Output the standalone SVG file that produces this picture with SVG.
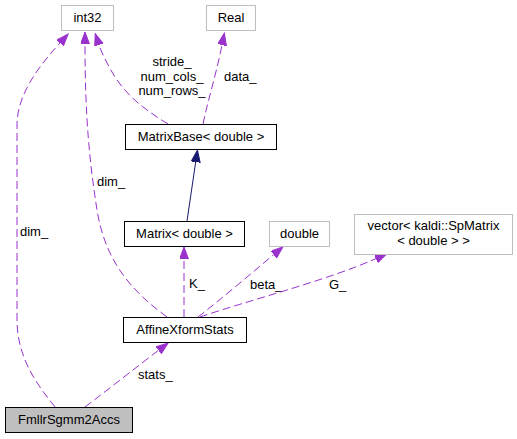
<svg xmlns="http://www.w3.org/2000/svg" width="517" height="439" viewBox="0 0 517 439">
<style>
text{font-family:"Liberation Sans",Arial,sans-serif;font-size:13px;fill:#000}
.c{text-anchor:middle}
.box{fill:#fff;stroke:#000;stroke-width:1}
.gbox{fill:#fff;stroke:#bfbfbf;stroke-width:1}
.dash{fill:none;stroke:#9a32cd;stroke-width:1;stroke-dasharray:8,4}
.solid{fill:none;stroke:#191970;stroke-width:1}
</style>
<defs>
<marker id="ap" markerUnits="userSpaceOnUse" markerWidth="13" markerHeight="10" refX="0" refY="4.5" orient="auto"><path d="M0,0 L12,4.5 L0,9 z" fill="#9a32cd" stroke="#9a32cd"/></marker>
<marker id="an" markerUnits="userSpaceOnUse" markerWidth="13" markerHeight="10" refX="0" refY="4.5" orient="auto"><path d="M0,0 L12,4.5 L0,9 z" fill="#191970" stroke="#191970"/></marker>
</defs>
<rect width="517" height="439" fill="#fff"/>
<g id="edges">
<path class="dash" marker-end="url(#ap)" d="M55,407 C40,388 17,360 17,320 L17,125 C17,95 38,67 60,43"/>
<text x="20" y="236">dim_</text>
<path class="dash" marker-end="url(#ap)" d="M167,317 C130,290 105,260 97,210 C90,165 85,120 85,44"/>
<text x="97" y="186">dim_</text>
<path class="dash" marker-end="url(#ap)" d="M168,124 C145,110 125,95 112,72 C107,63 102,54 99,45"/>
<text class="c" x="172" y="66">stride_</text>
<text class="c" x="172" y="81">num_cols_</text>
<text class="c" x="172" y="95">num_rows_</text>
<path class="dash" marker-end="url(#ap)" d="M203,124 C208,100 216,75 222,45"/>
<text x="224" y="81">data_</text>
<path class="solid" marker-end="url(#an)" d="M187,221 L195.7,162"/>
<path class="dash" marker-end="url(#ap)" d="M184,317 L184,259"/>
<text x="189" y="288">K_</text>
<path class="dash" marker-end="url(#ap)" d="M198,317 C220,300 253,272 273.7,254.6"/>
<text x="250" y="289">beta_</text>
<path class="dash" marker-end="url(#ap)" d="M200,317 C250,300 328,280 375.9,258.6"/>
<text x="329" y="289">G_</text>
<path class="dash" marker-end="url(#ap)" d="M85,407 C110,388 138,366 158.5,350.3"/>
<text x="138" y="379">stats_</text>
</g>
<g id="int32"><rect class="gbox" x="61.5" y="5.5" width="52" height="25"/><text class="c" x="87.5" y="22">int32</text></g>
<g id="Real"><rect class="gbox" x="206.5" y="5.5" width="49" height="25"/><text class="c" x="231" y="22">Real</text></g>
<g id="MatrixBase"><rect class="box" x="125.5" y="124.5" width="151" height="25"/><text class="c" x="201" y="141">MatrixBase&lt; double &gt;</text></g>
<g id="Matrix"><rect class="box" x="124.5" y="221.5" width="120" height="25"/><text class="c" x="184.5" y="238">Matrix&lt; double &gt;</text></g>
<g id="double"><rect class="gbox" x="269.5" y="221.5" width="60" height="25"/><text class="c" x="299.5" y="238">double</text></g>
<g id="vector"><rect class="gbox" x="354.5" y="214.5" width="158" height="40"/><text class="c" x="433.5" y="230">vector&lt; kaldi::SpMatrix</text><text class="c" x="433.5" y="245">&lt; double &gt; &gt;</text></g>
<g id="AffineXformStats"><rect class="box" x="123.5" y="317.5" width="123" height="25"/><text class="c" x="185" y="334">AffineXformStats</text></g>
<g id="FmllrSgmm2Accs"><rect class="box" x="5.5" y="407.5" width="127" height="25" style="fill:#bfbfbf"/><text class="c" x="69" y="424">FmllrSgmm2Accs</text></g>
</svg>
